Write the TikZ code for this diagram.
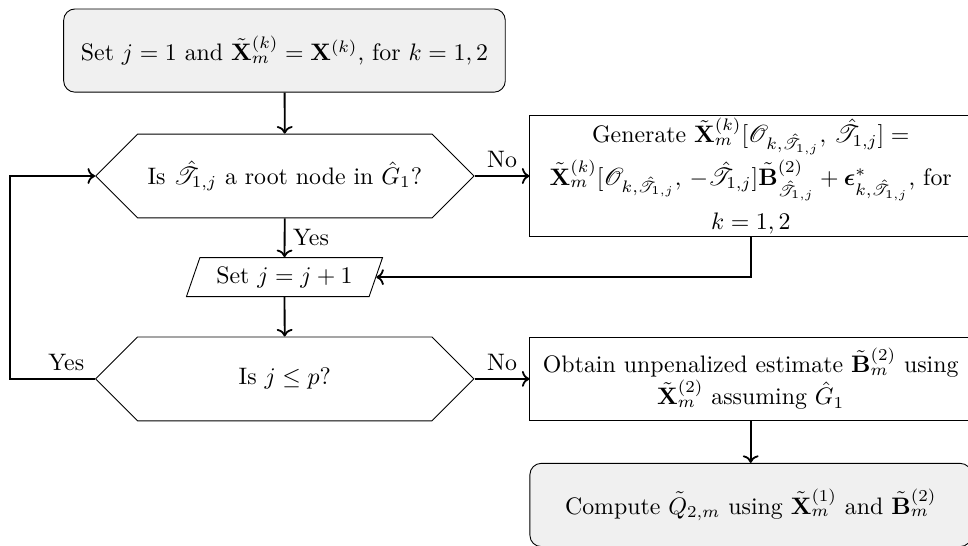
\RequirePackage{fix-cm}
\documentclass[tikz,border=0pt]{standalone}
\usepackage{amsmath}
\usepackage{amssymb}
\usepackage{bm}
\usepackage{mathrsfs}
\usetikzlibrary{arrows, arrows.meta}
\usetikzlibrary{calc}
\usetikzlibrary{shapes.geometric, shapes.symbols}

\begin{document}
\begin{tikzpicture}[
    every node/.style={font=\fontsize{10.6}{12.8}\selectfont},
    startstop/.style={rectangle, rounded corners=5pt, draw, fill=gray!12, minimum width=6.9cm, minimum height=1.3cm, align=center},
    process/.style={rectangle, draw, minimum width=6.9cm, align=center},
    decision/.style={signal, signal to=west and east, signal pointer angle=90, draw, minimum width=5.91cm, minimum height=1.31cm},
    io/.style={trapezium, trapezium left angle=66, trapezium right angle=114, trapezium stretches=true, draw, minimum width=3.08cm, minimum height=0.61cm, inner xsep=2pt, inner ysep=1pt},
    arr/.style={->, thick}
  ]
    \useasboundingbox (0,0) rectangle (15.125,-8.516);

    \node[startstop] (init) at (4.445,-0.79) {Set $j=1$ and $\tilde{\mathbf{X}}_m^{(k)}=\mathbf{X}^{(k)}$, for $k=1,2$};
    \node[decision] (isroot) at (4.45,-2.75) {Is $\hat{\mathscr{T}}_{1,j}$ a root node in $\hat{G}_1$?};
    \node[io] (incr) at (4.445,-4.33) {Set $j=j+1$};
    \node[decision] (isend) at (4.45,-5.92) {Is $j\leq p$?};
    \node[process, minimum height=1.875cm, inner ysep=1pt] (gen) at (11.73,-2.75) {Generate $\tilde{\mathbf{X}}_m^{(k)}[\mathscr{O}_{k,\hat{\mathscr{T}}_{1,j}},\,\hat{\mathscr{T}}_{1,j}]=$\\[1.5pt]
      $\tilde{\mathbf{X}}_m^{(k)}[\mathscr{O}_{k,\hat{\mathscr{T}}_{1,j}},\,-\hat{\mathscr{T}}_{1,j}]\tilde{\mathbf{B}}^{(2)}_{\hat{\mathscr{T}}_{1,j}}+\bm{\epsilon}^*_{k,\hat{\mathscr{T}}_{1,j}}$, for\\[4.5pt]
      $k=1,2$};
    \node[process, minimum height=1.3cm] (est) at (11.73,-5.92) {Obtain unpenalized estimate $\tilde{\mathbf{B}}_m^{(2)}$ using\\ $\tilde{\mathbf{X}}_m^{(2)}$ assuming $\hat{G}_1$};
    \node[startstop] (comp) at (11.73,-7.89) {Compute $\tilde{Q}_{2,m}$ using $\tilde{\mathbf{X}}_m^{(1)}$ and $\tilde{\mathbf{B}}_m^{(2)}$};
    \coordinate (loopx) at (0.16,0);

    \draw[arr] (init) -- (isroot);
    \draw[arr] (isroot) -- node[right] {Yes} (incr);
    \draw[arr] (isroot.east) -- node[above] {No} (gen.west);
    \draw[arr] (gen.south) |- (incr.east);
    \draw[arr] (incr) -- (isend);
    \draw[arr] (isend.east) -- node[above] {No} (est.west);
    \draw[arr] (est) -- (comp);
    \draw[arr] (isend.west) -- node[above, pos=0.34] {Yes} (isend.west -| loopx) |- (isroot.west);
  \end{tikzpicture}
\end{document}
